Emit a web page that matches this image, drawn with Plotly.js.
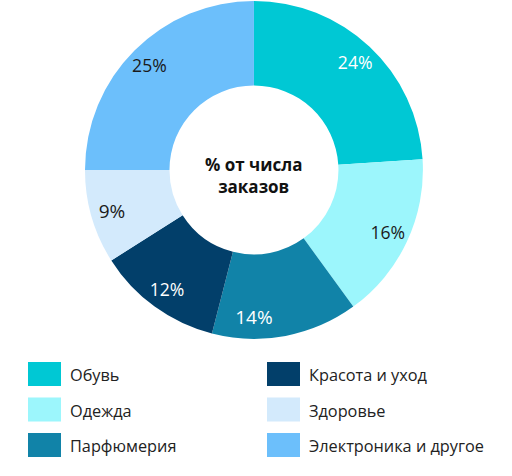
<!DOCTYPE html>
<html>
<head>
<meta charset="utf-8">
<script src="https://cdn.plot.ly/plotly-3.0.1.min.js"></script>
<style>
  html, body { margin: 0; padding: 0; background: #fff; }
  #chart { width: 512px; height: 476px; }
</style>
</head>
<body>
<div id="chart"></div>
<script>
// data
const categories = ["Обувь", "Одежда", "Парфюмерия", "Красота и уход", "Здоровье", "Электроника и другое"];
const shares = [24, 16, 14, 12, 9, 25];
const sliceColors = ["#00c8d4", "#9cf6fc", "#1183a8", "#023f6a", "#d3eafc", "#6cbffb"];
const labelColors = ["#ffffff", "#1a1a1a", "#ffffff", "#ffffff", "#1a1a1a", "#1a1a1a"];
// legend layout: column-major, 3 rows
const legendCols = [0, 0, 0, 1, 1, 1];
const legendRows = [0, 1, 2, 0, 1, 2];

const pieDomain = { x: [0.166, 0.826], y: [0.288, 0.998] };

var data = [
    {
        type: "pie",
        values: shares,
        labels: categories,
        sort: false,
        direction: "clockwise",
        hole: 0.5,
        domain: pieDomain,
        marker: { colors: sliceColors, line: { width: 0 } },
        textinfo: "none",
        hoverinfo: "label+value",
        showlegend: false
    },
    // transparent overlay ring, only to place the % labels near the outer edge
    {
        type: "pie",
        values: shares,
        labels: categories,
        sort: false,
        direction: "clockwise",
        hole: 0.75,
        domain: pieDomain,
        marker: { colors: shares.map(() => "rgba(0,0,0,0)"), line: { width: 0 } },
        texttemplate: "%{value}%",
        textposition: "inside",
        insidetextorientation: "horizontal",
        insidetextfont: { family: "Open Sans", size: 19, color: labelColors },
        hoverinfo: "skip",
        showlegend: false
    }
];

var shapes = [];
var annotations = [
    {
        x: 0.496, y: 0.632, xref: "paper", yref: "paper",
        text: "<b>% от числа<br>заказов</b>",
        showarrow: false,
        font: { family: "Open Sans", size: 17, color: "#111111" },
        align: "center"
    }
];

categories.forEach(function (name, i) {
    const x0 = 28 + legendCols[i] * 239;
    const yTop = 362 + legendRows[i] * 35.5;
    shapes.push({
        type: "rect", xref: "paper", yref: "paper",
        x0: x0 / 512, x1: (x0 + 33) / 512,
        y0: 1 - (yTop + 24) / 476, y1: 1 - yTop / 476,
        fillcolor: sliceColors[i], line: { width: 0 }
    });
    annotations.push({
        x: (x0 + 40) / 512, y: 1 - (yTop + 13) / 476,
        xref: "paper", yref: "paper",
        xanchor: "left", yanchor: "middle",
        text: name, showarrow: false,
        font: { family: "Open Sans", size: 16.3, color: "#222222" }
    });
});

var layout = {
    width: 512,
    height: 476,
    margin: { t: 0, r: 0, l: 0, b: 0 },
    paper_bgcolor: "#ffffff",
    plot_bgcolor: "#ffffff",
    shapes: shapes,
    annotations: annotations
};

Plotly.newPlot("chart", data, layout, { displayModeBar: false });
</script>
</body>
</html>
